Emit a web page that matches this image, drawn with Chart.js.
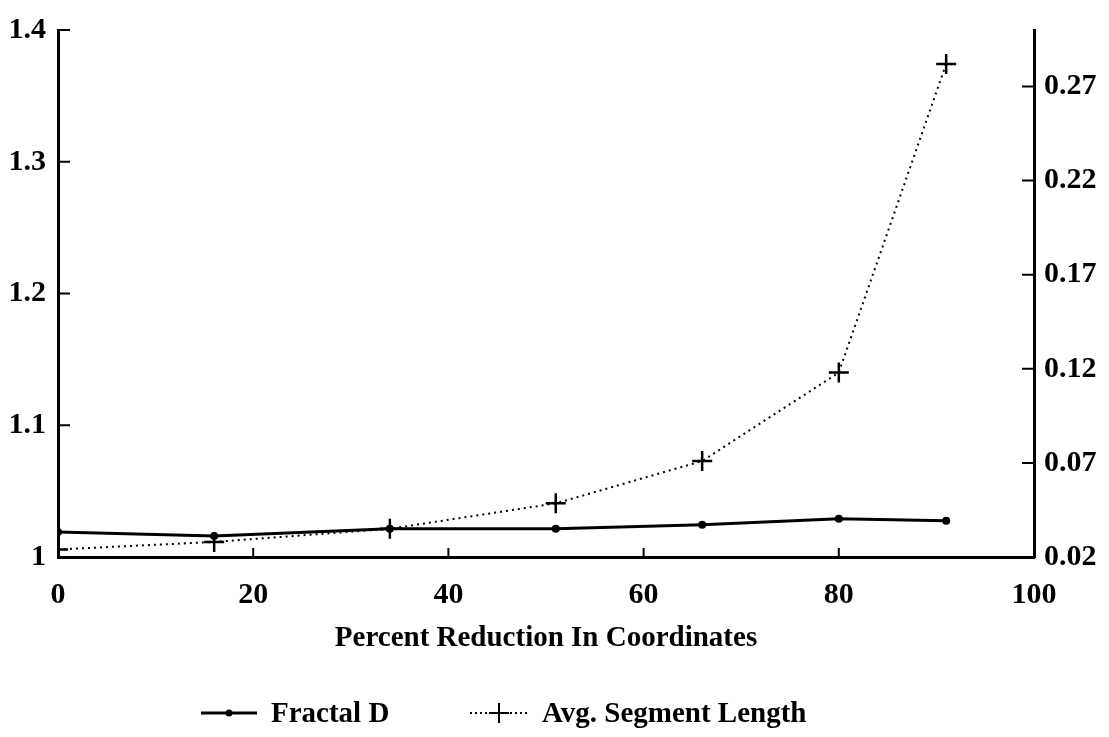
<!DOCTYPE html>
<html>
<head>
<meta charset="utf-8">
<script src="https://cdn.jsdelivr.net/npm/chart.js@4/dist/chart.umd.min.js"></script>
<style>
  html, body { margin: 0; padding: 0; background: #fff; }
  #wrap { width: 1109px; height: 737px; }
</style>
</head>
<body>
<div id="wrap"><canvas id="chart" width="1109" height="737"></canvas></div>
<script>
// --- Data ---
const reduction = [0, 16, 34, 51, 66, 80, 91];
const fractalD = [1.019, 1.016, 1.0215, 1.0215, 1.0245, 1.029, 1.0275];
const avgSegLength = [0.024, 0.028, 0.035, 0.0485, 0.071, 0.118, 0.282];

const xTicks = [0, 20, 40, 60, 80, 100];
const leftTicks = [1, 1.1, 1.2, 1.3, 1.4];
const rightTicks = [0.02, 0.07, 0.12, 0.17, 0.22, 0.27];

const serif = '"Liberation Serif", "DejaVu Serif", serif';
const tickFont = { family: serif, size: 30, weight: 'bold' };

// inward tick marks, drawn from the scales themselves
const inwardTicks = {
    id: 'inwardTicks',
    afterDraw(chart) {
        const { ctx, chartArea, scales } = chart;
        ctx.save();
        ctx.strokeStyle = '#000';
        ctx.lineWidth = 2;
        ctx.beginPath();
        scales.x.ticks.forEach(t => {
            if (t.value <= 0 || t.value >= 100) return;
            const px = scales.x.getPixelForValue(t.value);
            ctx.moveTo(px, chartArea.bottom);
            ctx.lineTo(px, chartArea.bottom - 9);
        });
        scales.y.ticks.forEach(t => {
            if (t.value <= 1) return;
            const py = scales.y.getPixelForValue(t.value);
            ctx.moveTo(chartArea.left, py);
            ctx.lineTo(chartArea.left + 12, py);
        });
        scales.y2.ticks.forEach(t => {
            if (t.value <= 0.02) return;
            const py = scales.y2.getPixelForValue(t.value);
            ctx.moveTo(chartArea.right, py);
            ctx.lineTo(chartArea.right - 12, py);
        });
        ctx.stroke();
        ctx.restore();
    }
};

// legend under the axis title
const bottomLegend = {
    id: 'bottomLegend',
    afterDraw(chart) {
        const { ctx } = chart;
        const y = 713;
        ctx.save();
        ctx.strokeStyle = '#000';
        ctx.fillStyle = '#000';
        ctx.font = 'bold 29px ' + serif;
        ctx.textBaseline = 'middle';

        // Fractal D sample
        ctx.lineWidth = 3;
        ctx.beginPath();
        ctx.moveTo(201, y);
        ctx.lineTo(257, y);
        ctx.stroke();
        ctx.beginPath();
        ctx.arc(229, y, 3.5, 0, Math.PI * 2);
        ctx.fill();
        ctx.fillText(chart.data.datasets[0].label, 271, y + 2);

        // Avg. Segment Length sample
        ctx.lineWidth = 2;
        ctx.setLineDash([2, 3]);
        ctx.beginPath();
        ctx.moveTo(470, y);
        ctx.lineTo(530, y);
        ctx.stroke();
        ctx.setLineDash([]);
        ctx.beginPath();
        ctx.moveTo(489, y);
        ctx.lineTo(509, y);
        ctx.moveTo(499, y - 10);
        ctx.lineTo(499, y + 10);
        ctx.stroke();
        ctx.fillText(chart.data.datasets[1].label, 542, y + 2);
        ctx.restore();
    }
};

new Chart(document.getElementById('chart'), {
    type: 'line',
    data: {
        datasets: [
            {
                label: 'Fractal D',
                data: reduction.map((x, i) => ({ x: x, y: fractalD[i] })),
                yAxisID: 'y',
                borderColor: '#000',
                backgroundColor: '#000',
                borderWidth: 3,
                pointStyle: 'circle',
                pointRadius: 4,
                pointBorderWidth: 0,
                tension: 0
            },
            {
                label: 'Avg. Segment Length',
                data: reduction.map((x, i) => ({ x: x, y: avgSegLength[i] })),
                yAxisID: 'y2',
                borderColor: '#000',
                backgroundColor: '#000',
                borderWidth: 2,
                borderDash: [2, 4],
                pointStyle: 'cross',
                pointRadius: 10,
                pointBorderWidth: 2.5,
                tension: 0
            }
        ]
    },
    options: {
        responsive: false,
        animation: false,
        layout: { padding: { top: 17, bottom: 77, left: 0, right: 0 } },
        plugins: {
            legend: { display: false },
            tooltip: { enabled: false }
        },
        scales: {
            x: {
                type: 'linear',
                min: 0,
                max: 100,
                afterBuildTicks: s => { s.ticks = xTicks.map(v => ({ value: v })); },
                afterFit: s => { s.height = 103; },
                grid: { display: false, drawTicks: false },
                border: { display: true, color: '#000', width: 3 },
                ticks: { color: '#000', font: tickFont, padding: 20, maxRotation: 0 },
                title: {
                    display: true,
                    text: 'Percent Reduction In Coordinates',
                    color: '#000',
                    font: { family: serif, size: 29, weight: 'bold' },
                    padding: { top: 13 }
                }
            },
            y: {
                position: 'left',
                min: 1,
                max: 1.4,
                afterBuildTicks: s => { s.ticks = leftTicks.map(v => ({ value: v })); },
                afterFit: s => { s.width = 58; },
                grid: { display: false, drawTicks: false },
                border: { display: true, color: '#000', width: 3 },
                ticks: {
                    color: '#000',
                    font: tickFont,
                    padding: 12,
                    callback: v => (v === 1 ? '1' : v.toFixed(1))
                }
            },
            y2: {
                position: 'right',
                min: 0.02,
                max: 0.30,
                afterBuildTicks: s => { s.ticks = rightTicks.map(v => ({ value: v })); },
                afterFit: s => { s.width = 75; },
                grid: { display: false, drawTicks: false },
                border: { display: true, color: '#000', width: 3 },
                ticks: {
                    color: '#000',
                    font: tickFont,
                    padding: 10,
                    callback: v => v.toFixed(2)
                }
            }
        }
    },
    plugins: [inwardTicks, bottomLegend]
});
</script>
</body>
</html>
